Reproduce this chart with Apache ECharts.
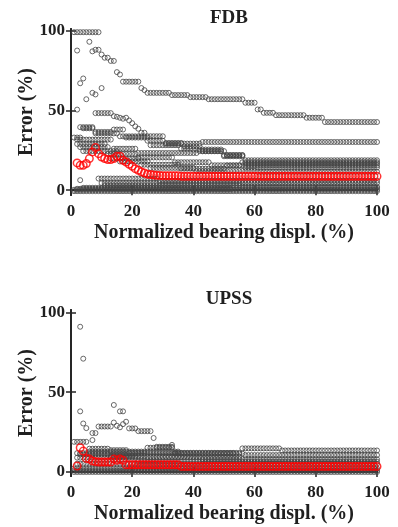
<!DOCTYPE html>
<html>
<head>
<meta charset="utf-8">
<script src="https://cdn.jsdelivr.net/npm/echarts@6/dist/echarts.min.js"></script>
<style>
  html, body { margin: 0; padding: 0; background: #fff; }
  #chart { width: 398px; height: 527px; }
</style>
</head>
<body>
<div id="chart"></div>
<script>
// Each curve is run-length coded from x = 1: [count, value], null = no point.
const xTicks = [0, 20, 40, 60, 80, 100];
const yTicks = [0, 50, 100];
const panelTitles = ['FDB', 'UPSS'];

const fdbGray = [
    [[9,99],[1,85],[2,83],[2,81],[1,74],[1,72.5],[6,68],[1,64],[1,62.7],[8,61],[6,59.6],[6,58.3],[12,57],[4,54.8],[2,50.6],[4,48.5],[10,47],[6,45.4],[18,42.7]],
    [[7,null],[6,48.3],[1,46.4],[1,46],[1,45.4],[1,44.8],[1,45.4],[1,43.7],[1,42],[1,40],[1,38.5],[2,36],[6,33.8],[6,29.6],[6,27.5],[7,24.4],[7,21.25],[44,18.75]],
    [[3,33],[4,38.8],[8,35.6],[9,33.75],[6,31],[12,29.2],[58,30.2]],
    [[2,null],[5,39.5],[6,36.5],[4,38],[8,33],[10,28.2],[4,26],[10,25.5],[7,22],[44,16.7]],
    [[1,null],[12,31.7],[8,26],[20,23.3],[9,24.5],[6,21.9],[44,14.2]],
    [[1,null],[10,29],[10,22.8],[12,20.5],[12,17.5],[10,15.6],[45,17.5]],
    [[2,null],[10,27],[10,19.8],[13,16],[15,13.5],[50,15.5]],
    [[3,null],[12,24.5],[10,18],[15,14],[20,12],[40,11.5]],
    [[8,null],[20,7.3],[72,6]],
    [[9,null],[91,4.5]],
    [[10,null],[45,3],[45,2.2]],
    [[3,null],[97,1.5]],
    [[100,0.3]],
    [[100,-0.6]],
    [[1,null],[51,0.9]]
];
const fdbLoose = [[2,87.5],[6,93],[7,87],[8,88],[9,88],[3,67],[4,70],[5,57],[7,61],[8,60],[10,64],[2,50.5],[3,6.3]];
const fdbRed = [[1,null],[1,17.1],[2,15.6],[1,16.7],[1,19.8],[1,24],[1,26.7],[1,22.9],[1,20.8],[1,19.8],[2,19.2],[1,19.8],[2,21.25],[1,18.75],[1,17.7],[1,16.25],[1,15],[1,13.5],[1,12.5],[1,11.5],[1,10.8],[1,10],[1,9.8],[1,9.5],[1,9.3],[1,9.2],[1,9.1],[5,9],[65,8.7]];

const upssGray = [
    [[3,null],[1,30.4],[1,27.5],[1,null],[2,24.4],[5,28.5],[1,31],[1,29],[1,28],[1,30],[1,31.5],[3,27.3],[5,25.6],[1,21.3],[6,15.8],[22,12],[13,14.8],[32,13.5]],
    [[5,18.9],[7,14.6],[6,13.7],[6,12],[9,15.2],[23,11.5],[44,10.6]],
    [[2,null],[10,11],[12,10],[18,9.5],[58,8]],
    [[1,null],[20,9],[79,6.5]],
    [[1,null],[99,5.2]],
    [[100,2.2]],
    [[100,1]],
    [[100,0]],
    [[1,null],[52,11.8]],
    [[5,null],[30,12.8]],
    [[12,null],[43,9.5]]
];
const upssLoose = [[3,91],[4,71],[3,38],[14,42],[16,38],[17,38],[7,20],[33,17]];
const upssRed = [[1,null],[1,3.75],[1,15.2],[1,13.1],[1,8.5],[1,8.1],[1,6.9],[1,6.5],[5,6.3],[1,8.1],[1,7.3],[1,8.1],[1,7.3],[18,4.5],[65,3.5]];

function expand(runs) {
    const out = [];
    let x = 1;
    runs.forEach(([n, v]) => {
        for (let i = 0; i < n; i++, x++) {
            if (v !== null) out.push([x, v]);
        }
    });
    return out;
}

const font = 'Liberation Serif';
const ink = '#1f1f1f';
const gridBoxes = [
    { left: 71, width: 306, top: 29, height: 166 },
    { left: 71, width: 306, top: 310, height: 166 }
];
const yRanges = [[-3, 101], [-2.5, 101.5]];

const lineStyle = { show: true, lineStyle: { color: '#262626', width: 2 } };
const tickStyle = { show: true, inside: true, length: 5, lineStyle: { color: '#262626', width: 1.5 } };
const labelStyle = { fontFamily: font, fontWeight: 'bold', fontSize: 17, color: ink };
const nameStyle = { fontFamily: font, fontWeight: 'bold', fontSize: 20, color: ink, verticalAlign: 'middle' };

const xAxis = [];
const yAxis = [];
gridBoxes.forEach((g, i) => {
    xAxis.push({
        type: 'value', gridIndex: i, min: 0, max: 100, interval: 20,
        axisLine: lineStyle, axisTick: tickStyle, splitLine: { show: false },
        axisLabel: { ...labelStyle, margin: 8 },
        name: 'Normalized bearing displ. (%)', nameLocation: 'middle', nameGap: 38,
        nameMoveOverlap: false, nameTextStyle: nameStyle
    });
    xAxis.push({
        type: 'value', gridIndex: i, position: 'top', min: 0, max: 100, interval: 20,
        axisLine: lineStyle, axisTick: tickStyle, splitLine: { show: false },
        axisLabel: { show: false }
    });
    yAxis.push({
        type: 'value', gridIndex: i, min: yRanges[i][0], max: yRanges[i][1],
        axisLine: lineStyle, splitLine: { show: false },
        axisTick: { ...tickStyle, customValues: yTicks },
        axisLabel: { ...labelStyle, margin: 6, customValues: yTicks },
        name: 'Error (%)', nameLocation: 'middle', nameGap: 44, nameRotate: 90,
        nameMoveOverlap: false, nameTextStyle: nameStyle
    });
    yAxis.push({
        type: 'value', gridIndex: i, position: 'right', min: yRanges[i][0], max: yRanges[i][1],
        axisLine: lineStyle, splitLine: { show: false },
        axisTick: { ...tickStyle, customValues: yTicks },
        axisLabel: { show: false }
    });
});

function graySeries(data, i) {
    return {
        type: 'scatter', xAxisIndex: i * 2, yAxisIndex: i * 2, data,
        symbol: 'circle', symbolSize: 5, silent: true, z: 2,
        itemStyle: { color: 'rgba(0,0,0,0)', borderColor: '#454545', borderWidth: 1 }
    };
}
function redSeries(data, i) {
    return {
        type: 'scatter', xAxisIndex: i * 2, yAxisIndex: i * 2, data,
        symbol: 'circle', symbolSize: 7.5, silent: true, z: 3,
        itemStyle: { color: 'rgba(0,0,0,0)', borderColor: '#ff0000', borderWidth: 1.5 }
    };
}

const series = [];
[[fdbGray, fdbLoose, fdbRed], [upssGray, upssLoose, upssRed]].forEach(([gray, loose, red], i) => {
    gray.forEach((runs) => series.push(graySeries(expand(runs), i)));
    series.push(graySeries(loose, i));
    series.push(redSeries(expand(red), i));
});

const chart = echarts.init(document.getElementById('chart'), null, { renderer: 'canvas' });
chart.setOption({
    animation: false,
    backgroundColor: '#fff',
    title: panelTitles.map((t, i) => ({
        text: t, left: 224, textAlign: 'center', top: gridBoxes[i].top - 25,
        textStyle: { fontFamily: font, fontWeight: 'bold', fontSize: 19, color: ink }
    })),
    grid: gridBoxes,
    xAxis,
    yAxis,
    series
});
</script>
</body>
</html>
